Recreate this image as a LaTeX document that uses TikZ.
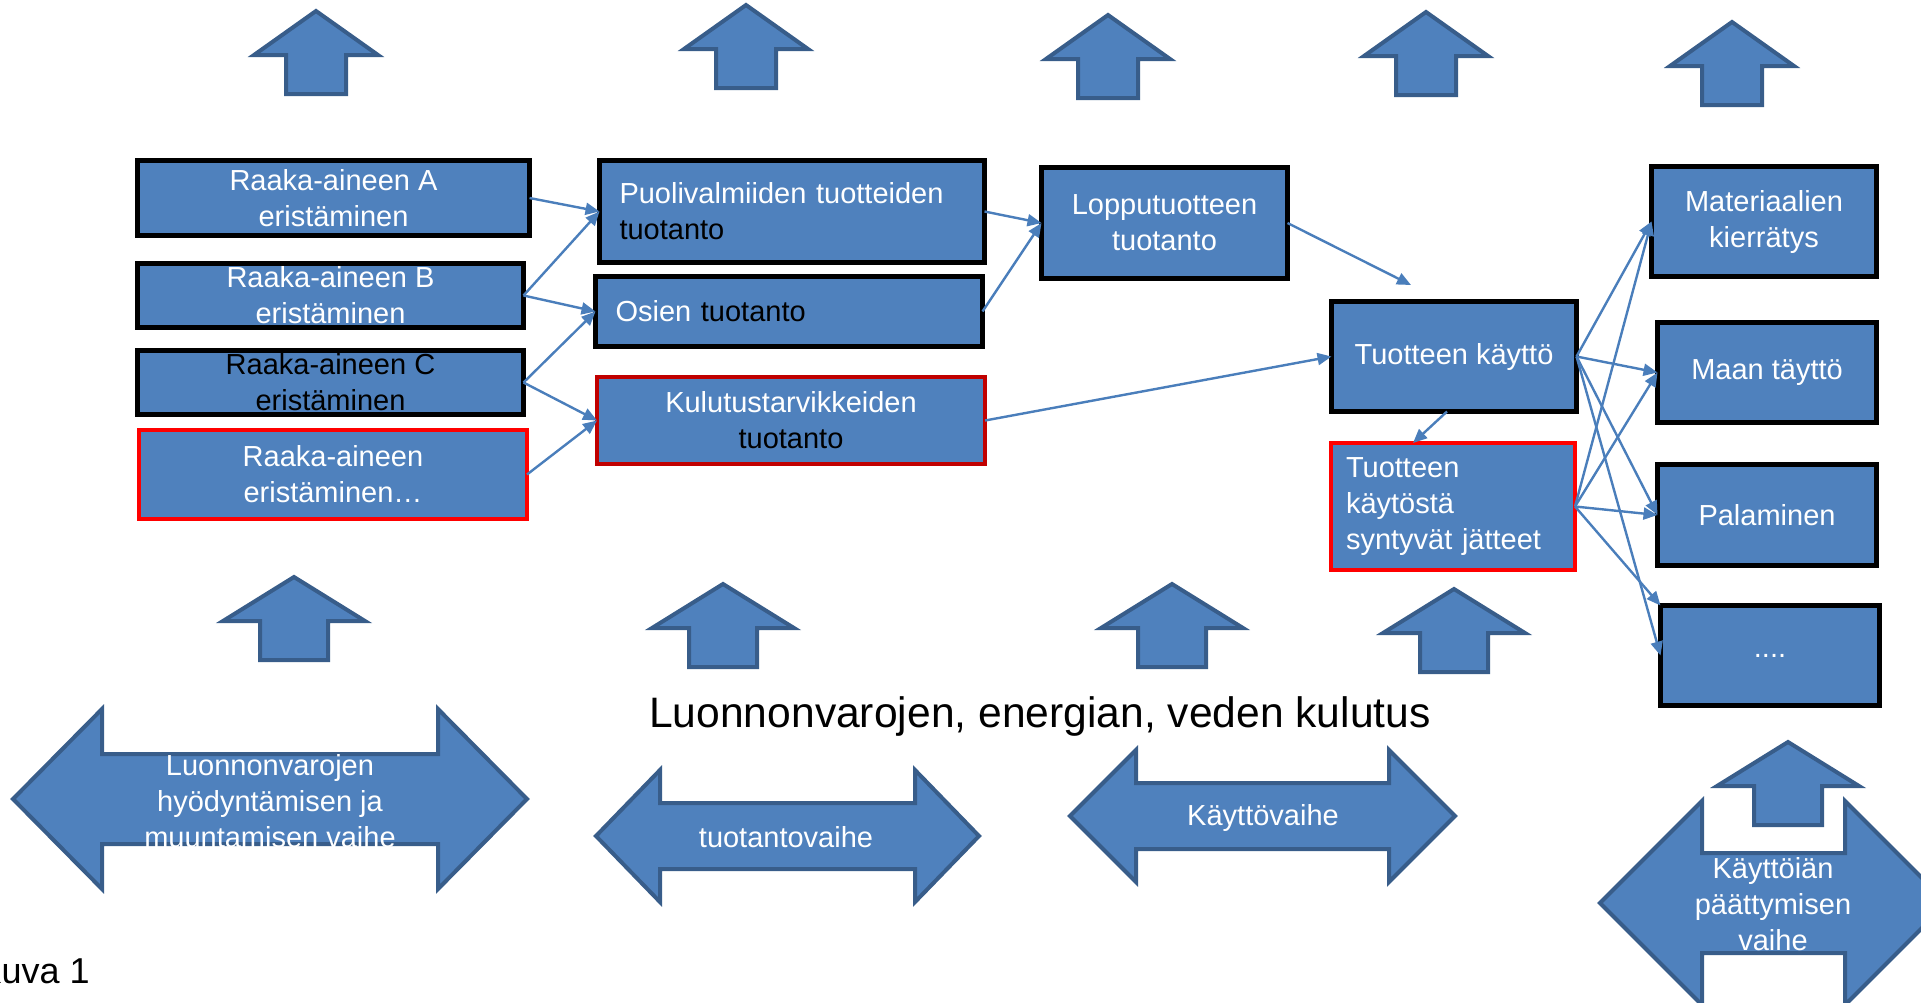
\documentclass[tikz,border=0pt]{standalone}
\usepackage{fontspec}
\setmainfont{Liberation Sans}
\usetikzlibrary{arrows.meta}

\definecolor{boxblue}{HTML}{4F81BD}
\definecolor{edgeblue}{HTML}{385D8A}
\definecolor{linkblue}{HTML}{4A7EBB}
\definecolor{darkred}{HTML}{C00000}

\newcommand{\boxfont}{\fontsize{14.5}{18}\selectfont}

% block arrow pointing up: tip x, tip y, half head, half shaft
\newcommand{\blockup}[4]{%
  \draw[blockarrow] (#1,#2) -- ({#1+#3},{#2+44}) -- ({#1+#4},{#2+44}) -- ({#1+#4},{#2+83})
    -- ({#1-#4},{#2+83}) -- ({#1-#4},{#2+44}) -- ({#1-#3},{#2+44}) -- cycle;}
% block arrow both ways: left tip, right tip, mid y, head length, half shaft, half head
\newcommand{\blockboth}[6]{%
  \draw[blockarrow] (#1,#3) -- ({#1+#4},{#3-#6}) -- ({#1+#4},{#3-#5}) -- ({#2-#4},{#3-#5})
    -- ({#2-#4},{#3-#6}) -- (#2,#3) -- ({#2-#4},{#3+#6}) -- ({#2-#4},{#3+#5})
    -- ({#1+#4},{#3+#5}) -- ({#1+#4},{#3+#6}) -- cycle;}

\tikzset{
  stage/.style={draw=black, line width=2.5pt, fill=boxblue, text=white, font=\boxfont,
    align=center, inner sep=0pt, outer sep=0pt},
  redstage/.style={stage, draw=red, line width=2pt},
  blockarrow/.style={draw=edgeblue, fill=boxblue, line width=2pt},
  arrowtext/.style={text=white, font=\boxfont, align=center},
  link/.style={draw=linkblue, line width=1.2pt, -{Triangle[length=7pt,width=6pt]}}
}

\begin{document}
\begin{tikzpicture}[x=0.5pt, y=-0.5pt]
\useasboundingbox (0,0) rectangle (1921,1002);

% arrows up, top row
\blockup{316}{11}{62}{30}
\blockup{746}{5}{62}{30}
\blockup{1108}{15}{62}{30}
\blockup{1426}{12}{62}{30}
\blockup{1732}{22}{62}{30}

% arrows up, bottom row
\blockup{294}{577}{71}{34}
\blockup{723}{584}{71}{34}
\blockup{1172}{584}{71}{34}
\blockup{1454}{589}{71}{34}
\blockup{1788}{742}{71}{34}

% phases
\blockboth{13}{527}{799}{89}{45}{90}
\blockboth{596}{979}{836}{64}{33}{66}
\blockboth{1070}{1455}{816}{66}{33}{66}
\blockboth{1600}{1947}{903}{102}{50}{102}

\node[arrowtext] (phase1) at (270,801) {Luonnonvarojen\\hyödyntämisen ja\\muuntamisen vaihe};
\node[arrowtext] (phase2) at (786,837) {tuotantovaihe};
\node[arrowtext] (phase3) at (1263,818) {Käyttövaihe};
\node[arrowtext] (phase4) at (1773,904) {Käyttöiän\\päättymisen\\vaihe};

\node[font=\fontsize{21.3}{25}\selectfont, anchor=base, inner sep=0pt] (kulutuslabel) at (1040,727) {Luonnonvarojen, energian, veden kulutus};
\node[font=\fontsize{18}{21}\selectfont, anchor=base east, inner sep=0pt] (kuva) at (90,983) {Kuva 1};

% raw materials
\node[stage, minimum width=196pt, minimum height=37.5pt] (ra) at (333.5,198) {Raaka-aineen A\\eristäminen};
\node[stage, minimum width=193pt, minimum height=32pt] (rb) at (330.5,295.5) {Raaka-aineen B\\eristäminen};
\node[stage, text=black, minimum width=193pt, minimum height=32pt] (rc) at (330.5,382.5) {Raaka-aineen C\\eristäminen};
\node[redstage, minimum width=194pt, minimum height=44.5pt] (rdots) at (333,474.5) {Raaka-aineen\\eristäminen…};

% production
\node[stage, align=left, text width=172.5pt, inner xsep=10pt, minimum height=51pt] (puoli) at (792,211.5) {Puolivalmiiden tuotteiden\\\textcolor{black}{tuotanto}};
\node[stage, align=left, text width=173.5pt, inner xsep=10pt, minimum height=35pt] (osien) at (789,311.5) {Osien \textcolor{black}{tuotanto}};
\node[redstage, draw=darkred, minimum width=194pt, minimum height=43.5pt] (kulutus) at (791,420.5) {Kulutustarvikkeiden\\\textcolor{black}{tuotanto}};
\node[stage, minimum width=123pt, minimum height=55.5pt] (loppu) at (1164.5,223) {Lopputuotteen\\tuotanto};

% use
\node[stage, minimum width=122.5pt, minimum height=55pt] (kaytto) at (1454,356.5) {Tuotteen käyttö};
\node[redstage, align=left, text width=107pt, inner xsep=7.5pt, minimum height=63.5pt] (jatteet) at (1453,506.5) {Tuotteen\\käytöstä\\syntyvät jätteet};

% end of life
\node[stage, minimum width=112.5pt, minimum height=55pt] (kierratys) at (1764,221.5) {Materiaalien\\kierrätys};
\node[stage, minimum width=109.5pt, minimum height=50pt] (taytto) at (1767,372.5) {Maan täyttö};
\node[stage, minimum width=109.5pt, minimum height=50.5pt] (palaminen) at (1767,515) {Palaminen};
\node[stage, minimum width=109.5pt, minimum height=50pt] (muut) at (1770,655.5) {....};

\coordinate (kayttoin) at (1411,285);

\draw[link] (ra.east) -- (puoli.west);
\draw[link] (rb.east) -- (puoli.west);
\draw[link] (rb.east) -- (osien.west);
\draw[link] (rc.east) -- (osien.west);
\draw[link] (rc.east) -- (kulutus.west);
\draw[link] (rdots.east) -- (kulutus.west);
\draw[link] (puoli.east) -- (loppu.west);
\draw[link] (osien.east) -- (loppu.west);
\draw[link] (loppu.east) -- (kayttoin);
\draw[link] (kulutus.east) -- (kaytto.west);
\draw[link] ([xshift=-3.5pt]kaytto.south) -- ([xshift=-20pt]jatteet.north);

\draw[link] (kaytto.east) -- (kierratys.west);
\draw[link] (kaytto.east) -- (taytto.west);
\draw[link] (kaytto.east) -- (palaminen.west);
\draw[link] (kaytto.east) -- (muut.west);
\draw[link] (jatteet.east) -- (kierratys.west);
\draw[link] (jatteet.east) -- (taytto.west);
\draw[link] (jatteet.east) -- (palaminen.west);
\draw[link] (jatteet.east) -- (muut.north west);

\end{tikzpicture}
\end{document}
